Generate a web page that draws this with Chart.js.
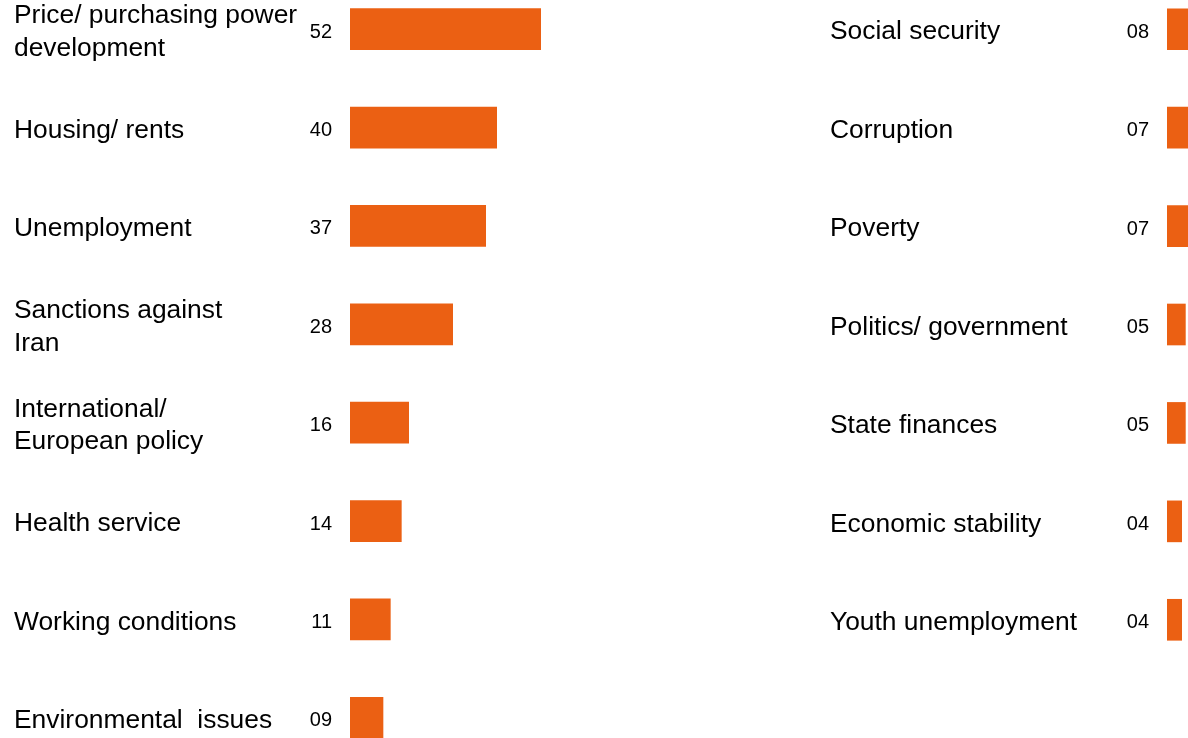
<!DOCTYPE html>
<html>
<head>
<meta charset="utf-8">
<script src="https://cdn.jsdelivr.net/npm/chart.js@4/dist/chart.umd.min.js"></script>
<style>
  body { margin: 0; width: 1188px; height: 738px; overflow: hidden; background: #fff; position: relative; }
  #leftBox { position: absolute; left: 0; top: -20px; }
  #rightBox { position: absolute; left: 816px; top: -20px; }
</style>
</head>
<body>
<div id="leftBox"><canvas id="leftChart" width="790" height="787"></canvas></div>
<div id="rightBox"><canvas id="rightChart" width="498" height="689"></canvas></div>
<script>
// data

const leftLabels = [
    ["Price/ purchasing power", "development"],
    "Housing/ rents",
    "Unemployment",
    ["Sanctions against", "Iran"],
    ["International/", "European policy"],
    "Health service",
    "Working conditions",
    "Environmental  issues"
];
const leftValues = [52, 40, 37, 28, 16, 14, 11, 9];

const rightLabels = [
    "Social security",
    "Corruption",
    "Poverty",
    "Politics/ government",
    "State finances",
    "Economic stability",
    "Youth unemployment"
];
const rightValues = [8, 7, 7, 5, 5, 4, 4];

const barColor = "#EB6013";
const fontFamily = "Arial, 'Liberation Sans', Helvetica";

// number next to each bar, left of the bar start
const valueLabels = {
    id: "valueLabels",
    afterDatasetsDraw(chart) {
        const ctx = chart.ctx;
        const meta = chart.getDatasetMeta(0);
        const data = chart.data.datasets[0].data;
        ctx.save();
        ctx.font = "20px " + fontFamily;
        ctx.fillStyle = "#000";
        ctx.textAlign = "right";
        ctx.textBaseline = "middle";
        meta.data.forEach((bar, i) => {
            ctx.fillText(String(data[i]).padStart(2, "0"), bar.base - 18, bar.y + 3);
        });
        ctx.restore();
    }
};

function makeChart(id, labels, values, axisWidth, xMax) {
    return new Chart(document.getElementById(id).getContext("2d"), {
        type: "bar",
        data: {
            labels: labels,
            datasets: [{
                data: values,
                backgroundColor: barColor,
                borderWidth: 0,
                barThickness: 41
            }]
        },
        options: {
            indexAxis: "y",
            responsive: false,
            animation: false,
            layout: { padding: { left: 14, right: 0, top: 0, bottom: 0 } },
            plugins: { legend: { display: false }, tooltip: { enabled: false } },
            scales: {
                x: { display: false, min: 0, max: xMax },
                y: {
                    grid: { display: false },
                    border: { display: false },
                    ticks: {
                        crossAlign: "far",
                        labelOffset: 3,
                        color: "#000",
                        font: { family: fontFamily, size: 26.4, lineHeight: 1.22 }
                    },
                    afterFit: (scale) => {
                        scale.width = axisWidth;
                        // rows keep an even step, labels may run past the edge
                        scale.paddingTop = 0;
                        scale.paddingBottom = 0;
                    }
                }
            }
        },
        plugins: [valueLabels]
    });
}

makeChart("leftChart", leftLabels, leftValues, 336, 120);
makeChart("rightChart", rightLabels, rightValues, 337, 40);
</script>
</body>
</html>
